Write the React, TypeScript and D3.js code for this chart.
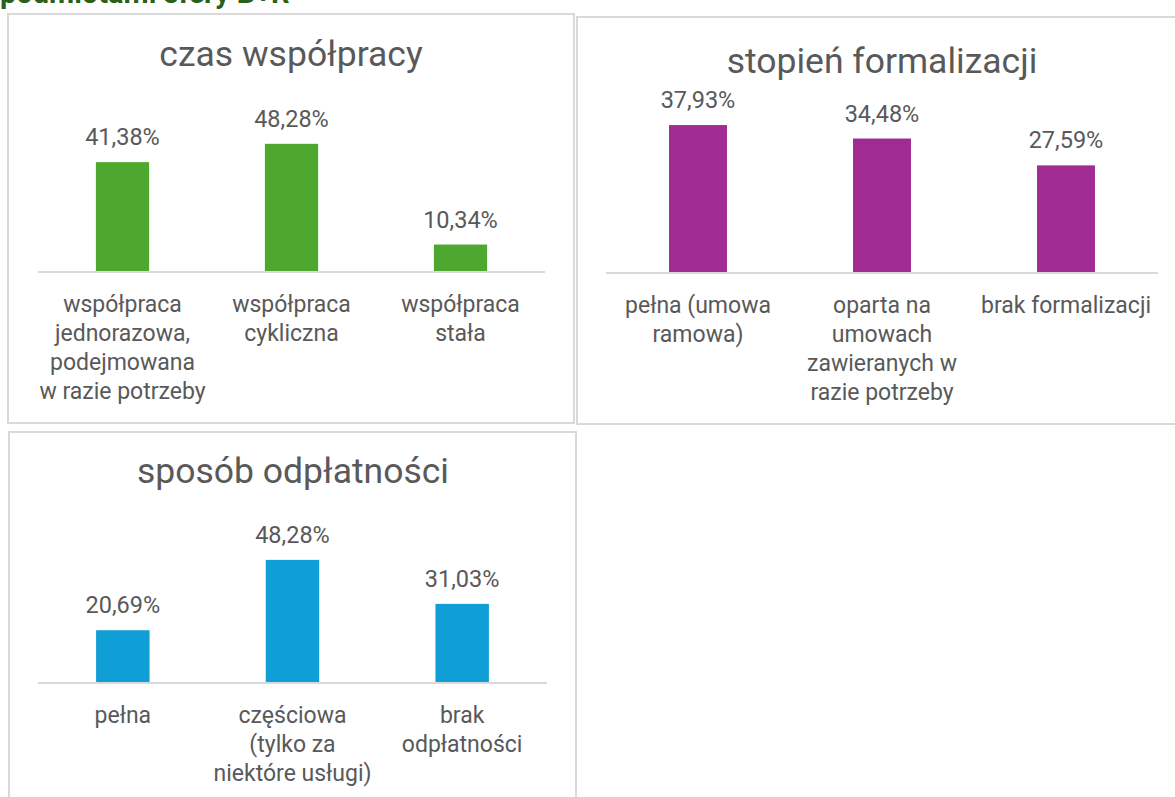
import React from "react";
import * as d3 from "d3";

const headerText = "podmiotami sfery B+R";

const czasTitle = "czas współpracy";
const czasCategories = [
  "współpraca\njednorazowa,\npodejmowana\nw razie potrzeby",
  "współpraca\ncykliczna",
  "współpraca\nstała",
];
const czasValues = [41.38, 48.28, 10.34];

const formalTitle = "stopień formalizacji";
const formalCategories = [
  "pełna (umowa\nramowa)",
  "oparta na\numowach\nzawieranych w\nrazie potrzeby",
  "brak formalizacji",
];
const formalValues = [37.93, 34.48, 27.59];

const odplTitle = "sposób odpłatności";
const odplCategories = [
  "pełna",
  "częściowa\n(tylko za\nniektóre usługi)",
  "brak\nodpłatności",
];
const odplValues = [20.69, 48.28, 31.03];

const FONT = "Roboto, 'Open Sans', sans-serif";
const TEXT = "#595959";
const BORDER = "#d9d9d9";

const fmt = (v: number) => d3.format(".2f")(v).replace(".", ",") + "%";

type PanelProps = {
  box: [number, number, number, number];
  title: string;
  titleX: number;
  titleBaseline: number;
  categories: string[];
  values: number[];
  color: string;
  xRange: [number, number];
  axisY: number;
  yMax: number;
  plotHeight: number;
};

function Panel(p: PanelProps) {
  const [bx, by, bw, bh] = p.box;
  const x = d3
    .scaleBand<string>()
    .domain(p.categories)
    .range(p.xRange)
    .paddingInner(0.685)
    .paddingOuter(0.3425);
  const y = d3
    .scaleLinear()
    .domain([0, p.yMax])
    .range([p.axisY, p.axisY - p.plotHeight]);
  return (
    <g>
      <rect x={bx} y={by} width={bw} height={bh} fill="#fff" stroke={BORDER} strokeWidth={2} />
      <text
        x={p.titleX}
        y={p.titleBaseline}
        textAnchor="middle"
        fontFamily={FONT}
        fontSize={35.5}
        fill={TEXT}
      >
        {p.title}
      </text>
      {p.categories.map((c, i) => {
        const cx = (x(c) as number) + x.bandwidth() / 2;
        const top = y(p.values[i]);
        return (
          <g key={c}>
            <rect
              x={x(c)}
              y={top}
              width={x.bandwidth()}
              height={p.axisY - top}
              fill={p.color}
            />
            <text
              x={cx}
              y={top - 17}
              textAnchor="middle"
              fontFamily={FONT}
              fontSize={23.5}
              fill={TEXT}
            >
              {fmt(p.values[i])}
            </text>
            <text textAnchor="middle" fontFamily={FONT} fontSize={23} fill={TEXT}>
              {c.split("\n").map((line, j) => (
                <tspan key={j} x={cx} y={p.axisY + 40 + j * 29}>
                  {line}
                </tspan>
              ))}
            </text>
          </g>
        );
      })}
      <line
        x1={p.xRange[0]}
        x2={p.xRange[1]}
        y1={p.axisY}
        y2={p.axisY}
        stroke={BORDER}
        strokeWidth={2}
      />
    </g>
  );
}

export default function App() {
  return (
    <div style={{ position: "fixed", left: 0, top: 0, width: 1175, height: 797, background: "#fff" }}>
      <svg width={1175} height={797} style={{ display: "block" }}>
        <rect x={0} y={0} width={1175} height={797} fill="#fff" />
        <text x={0} y={3} fontFamily={FONT} fontWeight="bold" fontSize={29} fill="#2a5f1c">
          {headerText}
        </text>
        <Panel
          box={[8, 14, 566, 409]}
          title={czasTitle}
          titleX={291}
          titleBaseline={66}
          categories={czasCategories}
          values={czasValues}
          color="#4ea72e"
          xRange={[38, 545]}
          axisY={272}
          yMax={60}
          plotHeight={159.3}
        />
        <Panel
          box={[577, 17, 610, 407]}
          title={formalTitle}
          titleX={882}
          titleBaseline={72.5}
          categories={formalCategories}
          values={formalValues}
          color="#a02b93"
          xRange={[606, 1158]}
          axisY={273}
          yMax={40}
          plotHeight={156}
        />
        <Panel
          box={[9, 432, 567, 380]}
          title={odplTitle}
          titleX={293}
          titleBaseline={483}
          categories={odplCategories}
          values={odplValues}
          color="#0f9ed5"
          xRange={[38, 547]}
          axisY={683}
          yMax={60}
          plotHeight={153}
        />
      </svg>
    </div>
  );
}
